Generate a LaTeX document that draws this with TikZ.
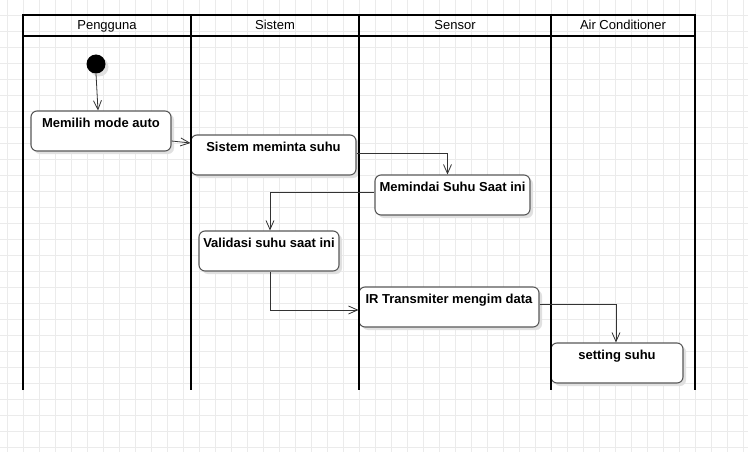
\documentclass[tikz,border=0pt]{standalone}
\usepackage{fontspec}
\setmainfont{Liberation Sans}
\usetikzlibrary{arrows.meta,shadows}
\tikzset{
  gridline/.style={draw=black!8, line width=0.6pt},
  lane/.style={draw=black, line width=2pt},
  lanetitle/.style={font=\fontsize{13}{15}\selectfont, anchor=base, inner sep=0pt},
  actbox/.style={rectangle, draw=black!65, line width=1.1pt, fill=white, rounded corners=6pt,
    minimum height=40pt, inner sep=0pt,
    drop shadow={shadow xshift=3pt, shadow yshift=-3pt, fill=black!12, opacity=1}},
  acttext/.style={font=\bfseries\fontsize{13}{15}\selectfont, anchor=base, yshift=-17.5pt, inner sep=0pt},
  conn/.style={draw=black!80, line width=0.8pt, -{Straight Barb[length=9pt,width=8pt]}},
  startnode/.style={circle, fill=black, minimum size=19pt, inner sep=0pt,
    drop shadow={shadow xshift=3pt, shadow yshift=-3pt, fill=black!12, opacity=1}}
}
\begin{document}
\begin{tikzpicture}[x=1pt,y=-1pt]
\useasboundingbox (0,0) rectangle (748,452);
\fill[white] (0,0) rectangle (748,452);
\foreach \gx in {7,23,...,743} \draw[gridline] (\gx,0) -- (\gx,452);
\foreach \gy in {15,31,...,447} \draw[gridline] (0,\gy) -- (748,\gy);

% start
\node[startnode] (start) at (96,64) {};

% activities
\node[actbox, minimum width=140pt, label={[acttext]north:Memilih mode auto}] (b1) at (101,131) {};
\node[actbox, minimum width=165pt, label={[acttext]north:Sistem meminta suhu}] (b2) at (273.5,155) {};
\node[actbox, minimum width=155pt, label={[acttext]north:Memindai Suhu Saat ini}] (b3) at (452.5,195) {};
\node[actbox, minimum width=140pt, label={[acttext]north:Validasi suhu saat ini}] (b4) at (269,251) {};
\node[actbox, minimum width=180pt, label={[acttext]north:IR Transmiter mengim data}] (b5) at (449,307) {};
\node[actbox, minimum width=132pt, label={[acttext]north:setting suhu}] (b6) at (617,363) {};

% swimlanes
\draw[lane] (23,390) -- (23,15) -- (695,15) -- (695,390);
\draw[lane] (23,36) -- (695,36);
\draw[lane] (191,15) -- (191,390);
\draw[lane] (359,15) -- (359,390);
\draw[lane] (551,15) -- (551,390);
\node[lanetitle] (h1) at (107,30) {Pengguna};
\node[lanetitle] (h2) at (275,30) {Sistem};
\node[lanetitle] (h3) at (455,30) {Sensor};
\node[lanetitle] (h4) at (623,30) {Air Conditioner};

% connectors
\draw[conn] (start.south) -- ([xshift=-3pt]b1.north);
\draw[conn] ([yshift=-10pt]b1.east) -- ([yshift=12pt]b2.west);
\draw[conn] ([yshift=2pt]b2.east) -| ([xshift=-5pt]b3.north);
\draw[conn] ([yshift=3pt]b3.west) -| ([xshift=1pt]b4.north);
\draw[conn] ([xshift=1pt]b4.south) |- ([yshift=-3pt]b5.west);
\draw[conn] ([yshift=3pt]b5.east) -| ([xshift=-1pt]b6.north);
\end{tikzpicture}
\end{document}
